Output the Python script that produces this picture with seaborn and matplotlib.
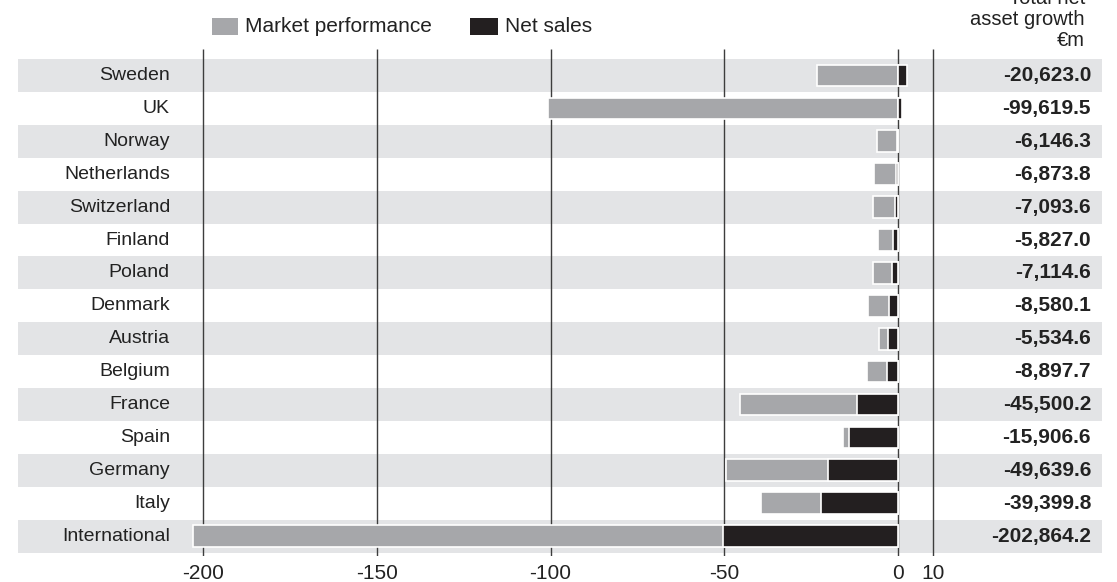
import matplotlib
matplotlib.use("Agg")
import matplotlib.pyplot as plt
from matplotlib.patches import Rectangle
from matplotlib.transforms import blended_transform_factory
import seaborn as sns
import pandas as pd

# ---- data (EUR bn) ----
countries = ["Sweden", "UK", "Norway", "Netherlands", "Switzerland", "Finland",
             "Poland", "Denmark", "Austria", "Belgium", "France", "Spain",
             "Germany", "Italy", "International"]
market_performance = [-23.3, -100.8, -5.9, -6.2, -6.1, -4.4, -5.5, -6.1, -2.7,
                      -5.7, -33.8, -1.8, -29.5, -17.1, -152.4]
net_sales = [2.7, 1.2, -0.25, -0.7, -1.0, -1.4, -1.6, -2.5, -2.8, -3.2, -11.7,
             -14.1, -20.1, -22.3, -50.5]
total_labels = ["-20,623.0", "-99,619.5", "-6,146.3", "-6,873.8", "-7,093.6",
                "-5,827.0", "-7,114.6", "-8,580.1", "-5,534.6", "-8,897.7",
                "-45,500.2", "-15,906.6", "-49,639.6", "-39,399.8", "-202,864.2"]
tick_values = [-200, -150, -100, -50, 0, 10]
tick_labels = ["-200", "-150", "-100", "-50", "0", "10"]
series_names = ["Market performance", "Net sales"]
header_text = "Total net\nasset growth\n€m"

GREY = "#a6a7aa"
DARK = "#231f20"
BAND = "#e3e4e6"
LINE = "#3d3d3d"
TXT = "#222222"

sns.set_theme(style="white")
plt.rcParams["font.family"] = ["Liberation Sans", "DejaVu Sans"]
plt.rcParams["axes.unicode_minus"] = False

W, H = 1117, 582
fig = plt.figure(figsize=(W / 100, H / 100), dpi=100)
fig.patch.set_facecolor("white")

# axes in pixel geometry
ax_left, ax_right, ax_top, ax_bot = 18, 1102, 40, 556
ax = fig.add_axes([ax_left / W, (H - ax_bot) / H, (ax_right - ax_left) / W, (ax_bot - ax_top) / H])

df = pd.DataFrame({"country": countries, "market": market_performance, "net": net_sales})
# grey segment drawn from 0 to the combined negative extent; dark drawn over it
df["grey_extent"] = [m + min(n, 0) for m, n in zip(df["market"], df["net"])]

# alternating row bands
for i in range(len(countries)):
    if i % 2 == 0:
        ax.axhspan(i - 0.5, i + 0.5, color=BAND, lw=0, zorder=0)

sns.barplot(data=df, x="grey_extent", y="country", order=countries, orient="h",
            color=GREY, width=0.66, edgecolor="white", linewidth=1.2,
            errorbar=None, saturation=1, ax=ax, zorder=3)
sns.barplot(data=df, x="net", y="country", order=countries, orient="h",
            color=DARK, width=0.66, edgecolor="white", linewidth=1.2,
            errorbar=None, saturation=1, ax=ax, zorder=4)

px_per_unit = (898 - 203) / 200.0
ax.set_xlim(-(898 - ax_left) / px_per_unit, (ax_right - 898) / px_per_unit)
row_px = 32.9
row0 = 75.5
ax.set_ylim((ax_bot - row0) / row_px, -(row0 - ax_top) / row_px)

# vertical gridlines
ax.vlines(tick_values, ymin=-(row0 - 49) / row_px, ymax=(ax_bot - row0) / row_px,
          color=LINE, lw=1.0, zorder=2)

ax.set_xticks(tick_values)
ax.set_xticklabels(tick_labels, fontsize=15, color=TXT)
ax.tick_params(axis="x", length=0, pad=6)
ax.tick_params(axis="y", left=False, labelleft=False)
ax.set_xlabel("")
ax.set_ylabel("")
for s in ax.spines.values():
    s.set_visible(False)
ax.set_facecolor("none")

trans = blended_transform_factory(ax.transAxes, ax.transData)
lab_x = (170 - ax_left) / (ax_right - ax_left)
val_x = (1091 - ax_left) / (ax_right - ax_left)
for i, (c, v) in enumerate(zip(countries, total_labels)):
    ax.text(lab_x, i, c, transform=trans, ha="right", va="center",
            fontsize=14, color=TXT)
    ax.text(val_x, i, v, transform=trans, ha="right", va="center",
            fontsize=15, fontweight="bold", color=TXT)

# header of value column (top line is cut by the image edge, as in the source)
fig.text(1085 / W, 1 - 46 / H, header_text, ha="right", va="baseline",
         multialignment="right", fontsize=14.5, color=TXT, linespacing=1.12)

# legend
for (x0, x1), col, name in zip([(212, 238), (470, 498)], [GREY, DARK], series_names):
    fig.patches.append(Rectangle((x0 / W, 1 - 35 / H), (x1 - x0) / W, 17 / H,
                                 transform=fig.transFigure, facecolor=col,
                                 edgecolor="none", figure=fig))
    fig.text((x1 + 7) / W, 1 - 27 / H, name, ha="left", va="center",
             fontsize=15, color=TXT)

fig.savefig("out.png", dpi=100, facecolor="white")
